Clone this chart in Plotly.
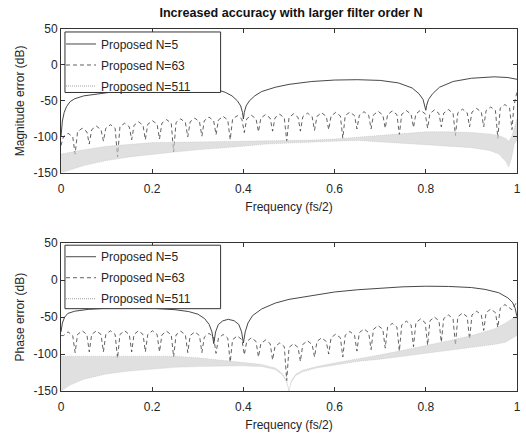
import plotly.graph_objects as go
from plotly.subplots import make_subplots

# ---------------- data ----------------
# Proposed N=5 (smooth curves)
n5_mag_x = [0, 0.003, 0.007, 0.012, 0.02, 0.03, 0.05, 0.08, 0.12, 0.17, 0.22, 0.27, 0.31, 0.34, 0.36,
            0.375, 0.387, 0.394, 0.398, 0.4, 0.402, 0.406, 0.413, 0.425, 0.44, 0.47, 0.5, 0.55, 0.6,
            0.65, 0.7, 0.74, 0.77, 0.785, 0.794, 0.798, 0.8, 0.802, 0.806, 0.815, 0.83, 0.86, 0.9,
            0.95, 0.98, 1.0]
n5_mag_db = [-100, -78, -66, -58, -51, -47, -43, -40, -37, -34, -32, -31, -31.5, -34, -38,
             -43, -50, -57, -66, -75, -66, -57, -50, -43, -37, -31, -27, -23, -21,
             -20.5, -21.5, -25, -32, -40, -48, -56, -63, -56, -48, -40, -31, -23, -18.5,
             -16.5, -17.5, -20]

n5_ph_x = [0, 0.003, 0.008, 0.015, 0.03, 0.06, 0.1, 0.15, 0.2, 0.25, 0.28, 0.3, 0.315, 0.325, 0.331,
           0.335, 0.339, 0.345, 0.355, 0.367, 0.38, 0.39, 0.396, 0.4, 0.404, 0.41, 0.42, 0.44, 0.47,
           0.5, 0.55, 0.6, 0.65, 0.7, 0.75, 0.8, 0.85, 0.9, 0.93, 0.96, 0.98, 0.99, 0.996, 1.0]
n5_ph_db = [-70, -58, -50, -45, -42, -39.5, -38, -37.5, -38, -40, -42.5, -46, -52, -60, -70,
            -86, -70, -60, -55, -53, -55, -60, -70, -85, -70, -58, -48, -39, -31,
            -26, -20.5, -16, -13, -10.5, -9, -8.2, -8.5, -10, -12.5, -17, -24, -30, -38, -50]

# Proposed N=63 (scalloped curves): notch frequencies, notch depths, arc levels
n63_notch_x = [0.000, 0.031, 0.062, 0.093, 0.124, 0.155, 0.185, 0.216, 0.247, 0.278, 0.309,
               0.340, 0.371, 0.402, 0.433, 0.464, 0.495, 0.525, 0.556, 0.587, 0.618, 0.649,
               0.680, 0.711, 0.742, 0.773, 0.804, 0.834, 0.865, 0.896, 0.927, 0.958, 0.989]

n63_mag_notch_db = [-112, -124, -110, -106, -128, -104, -104, -103, -121, -100, -99,
                    -97, -104, -94, -93, -92, -106, -92, -91, -90, -102, -89,
                    -89, -88, -97, -87, -88, -86, -98, -86, -86, -102, -90]
n63_mag_peak_db = [-95, -88, -85, -83, -81, -79, -77.5, -76, -75, -74, -72.5, -71.5, -70.5, -70,
                   -69, -68.5, -68, -67, -66.5, -66, -65.5, -65, -64.5, -64, -63.5, -63, -62.5,
                   -62, -61.5, -60.5, -58.5, -55]
n63_mag_shoulder_db = [-100, -93, -90, -88, -86, -84, -82.5, -81, -80, -79, -77.5, -76.5, -75.5,
                       -75, -74, -73.5, -73, -72, -71.5, -71, -70.5, -70, -69.5, -69, -68.5, -68,
                       -67.5, -67, -66.5, -65.5, -63.5, -60]
n63_mag_end_x = [0.993, 0.997, 1.0]
n63_mag_end_db = [-58, -45, -38]

n63_ph_notch_db = [-75, -98, -97, -97, -106, -97, -97, -97, -104, -98, -98,
                   -99, -111, -101, -104, -108, -136, -110, -104, -100, -104, -96,
                   -94, -92, -96, -90, -88, -84, -88, -80, -68, -64, -40]
n63_ph_peak_db = [-70, -68.5, -68.5, -68.5, -68.5, -68.5, -68.5, -69, -69, -70, -72, -73.5,
                  -75.5, -78, -81, -85, -86, -82, -78, -73, -69.5, -66, -61.5, -58.5, -55.5,
                  -52.5, -50, -47, -44.5, -42, -39, -33]
n63_ph_shoulder_db = [-75, -73.5, -73.5, -73.5, -73.5, -73.5, -73.5, -74, -74, -75, -77, -78.5,
                      -80.5, -83, -86, -90, -91, -87, -83, -78, -74.5, -71, -66.5, -63.5, -60.5,
                      -57.5, -55, -52, -49.5, -47, -44, -38]
n63_ph_end_x = [1.0]
n63_ph_end_db = [-29]

# Proposed N=511 (dense ripple band): upper / lower envelope
n511_mag_x = [0, 0.02, 0.05, 0.1, 0.15, 0.2, 0.25, 0.3, 0.35, 0.4, 0.45, 0.5, 0.55, 0.6, 0.65,
              0.7, 0.75, 0.8, 0.85, 0.9, 0.94, 0.96, 0.975, 0.982, 0.988, 0.994, 1.0]
n511_mag_hi = [-124, -122, -118, -113, -110, -108, -107.5, -107, -106.5, -106, -106, -105.5,
               -104.5, -103, -100.5, -98, -95, -93, -93, -94, -96, -98, -102, -106, -100, -88, -75]
n511_mag_lo = [-150, -146, -140, -133, -128, -124, -121, -118, -115, -113, -110, -108, -107,
               -106, -105, -107, -109, -111, -113, -115, -119, -124, -134, -142, -130, -110, -105]

n511_ph_x = [0, 0.02, 0.05, 0.1, 0.15, 0.2, 0.25, 0.3, 0.35, 0.4, 0.44, 0.47, 0.485, 0.495, 0.5,
             0.505, 0.515, 0.53, 0.56, 0.6, 0.65, 0.7, 0.75, 0.8, 0.85, 0.9, 0.95, 0.975, 1.0]
n511_ph_hi = [-103, -103, -103, -103, -102.5, -102, -103, -105, -108, -111, -114, -119, -126,
              -136, -150, -136, -127, -122, -117, -112, -107, -101, -95, -89, -82, -75, -66, -58, -48]
n511_ph_lo = [-150, -142, -134, -127, -123, -120, -118, -117, -116, -116, -117, -121, -128,
              -138, -150, -138, -129, -124, -119, -115, -110, -107, -103, -99, -96, -91, -87, -84, -75]

series_names = ["Proposed N=5", "Proposed N=63", "Proposed N=511"]
x_ticks = [0, 0.2, 0.4, 0.6, 0.8, 1]
x_tick_text = ["0", "0.2", "0.4", "0.6", "0.8", "1"]
y_ticks = [-150, -100, -50, 0, 50]
y_tick_text = ["-150", "-100", "-50", "0", "50"]


# ---------------- helpers ----------------
def scallops(nx, ndb, pdb, sdb, ex, edb):
    xs, ys = [], []
    for k in range(len(pdb)):
        x0, x1 = nx[k], nx[k + 1]
        w = x1 - x0
        xs += [x0, x0 + 0.17 * w, x0 + 0.5 * w, x0 + 0.83 * w]
        ys += [ndb[k], sdb[k], pdb[k], sdb[k]]
    xs.append(nx[-1])
    ys.append(ndb[-1])
    return xs + list(ex), ys + list(edb)


def band(x, hi, lo):
    return list(x) + list(x)[::-1], list(hi) + list(lo)[::-1]


DARK = "#333333"
FONT = "Liberation Sans, Arial, Helvetica, sans-serif"

fig = make_subplots(rows=2, cols=1)

panels = [
    (1, "legend", n5_mag_x, n5_mag_db,
     scallops(n63_notch_x, n63_mag_notch_db, n63_mag_peak_db, n63_mag_shoulder_db, n63_mag_end_x, n63_mag_end_db),
     band(n511_mag_x, n511_mag_hi, n511_mag_lo)),
    (2, "legend2", n5_ph_x, n5_ph_db,
     scallops(n63_notch_x, n63_ph_notch_db, n63_ph_peak_db, n63_ph_shoulder_db, n63_ph_end_x, n63_ph_end_db),
     band(n511_ph_x, n511_ph_hi, n511_ph_lo)),
]

for row, leg, x5, y5, (x63, y63), (xb, yb) in panels:
    fig.add_trace(go.Scatter(x=x5, y=y5, mode="lines", name=series_names[0], legend=leg,
                             legendgroup=f"a{row}",
                             line=dict(color=DARK, width=0.9)), row=row, col=1)
    fig.add_trace(go.Scatter(x=x63, y=y63, mode="lines", name=series_names[1], legend=leg,
                             legendgroup=f"b{row}",
                             line=dict(color="#3a3a3a", width=0.8, dash="4px,3px")), row=row, col=1)
    fig.add_trace(go.Scatter(x=xb, y=yb, mode="lines", fill="toself", showlegend=False,
                             hoverinfo="skip",
                             line=dict(color="rgba(170,170,170,0.7)", width=0.5, dash="1px,1px"),
                             fillcolor="rgba(235,235,235,0.5)",
                             fillpattern=dict(shape="|", fgcolor="#a4a4a4", size=2, solidity=0.5)),
                  row=row, col=1)
    fig.add_trace(go.Scatter(x=[None], y=[None], mode="lines", name=series_names[2], legend=leg,
                             legendgroup=f"c{row}",
                             line=dict(color="#a0a0a0", width=1, dash="1px,1px")), row=row, col=1)

axis_common = dict(showline=True, linecolor=DARK, linewidth=1, mirror="ticks", ticks="inside",
                   ticklen=4, tickcolor=DARK, showgrid=False, zeroline=False,
                   tickfont=dict(family=FONT, size=12, color="#262626"))
for r in (1, 2):
    fig.update_xaxes(range=[0, 1], tickvals=x_ticks, ticktext=x_tick_text, ticklabelstandoff=5,
                     title=dict(text="Frequency (fs/2)", font=dict(family=FONT, size=12, color="#262626"),
                                standoff=7),
                     row=r, col=1, **axis_common)
fig.update_yaxes(range=[-150, 50], tickvals=y_ticks, ticktext=y_tick_text, row=1, col=1,
                 title=dict(text="Magnitude error (dB)", font=dict(family=FONT, size=12, color="#262626"),
                            standoff=6), **axis_common)
fig.update_yaxes(range=[-150, 50], tickvals=y_ticks, ticktext=y_tick_text, row=2, col=1,
                 title=dict(text="Phase error (dB)", font=dict(family=FONT, size=12, color="#262626"),
                            standoff=6), **axis_common)

top_dom = [(394 - 174) / 365, 1.0]
bot_dom = [0.0, (394 - 245) / 365]
fig.update_layout(yaxis=dict(domain=top_dom), yaxis2=dict(domain=bot_dom))

leg_common = dict(x=0.0, xanchor="left", yanchor="top", bgcolor="rgba(0,0,0,0)", borderwidth=0,
                  font=dict(family=FONT, size=12, color="#262626"), traceorder="grouped",
                  tracegroupgap=2, itemwidth=30)
fig.update_layout(
    legend=dict(y=(394 - 29.5) / 365, **leg_common),
    legend2=dict(y=(394 - 244) / 365, **leg_common),
)

# legend frames (white box that hides the curves behind the legend)
for yref, xref, y0, y1 in [("y domain", "x domain", (174 - 93) / 145, (174 - 32) / 145),
                           ("y2 domain", "x2 domain", (394 - 311) / 149, (394 - 247) / 149)]:
    fig.add_shape(type="rect", xref=xref, yref=yref, x0=(65 - 61) / 460, x1=(222 - 61) / 460,
                  y0=y0, y1=y1, fillcolor="white", line=dict(color=DARK, width=1), layer="above")

fig.update_layout(
    width=526, height=435, autosize=False,
    margin=dict(l=61, r=5, t=29, b=41),
    paper_bgcolor="white", plot_bgcolor="white",
    title=dict(text="<b>Increased accuracy with larger filter order N</b>", x=291 / 526, xanchor="center",
               y=1 - 13 / 435, yanchor="middle", yref="container",
               font=dict(family=FONT, size=12.6, color="#111111")),
    font=dict(family=FONT, size=12, color="#262626"),
    showlegend=True,
)

fig.write_html("out.html")
